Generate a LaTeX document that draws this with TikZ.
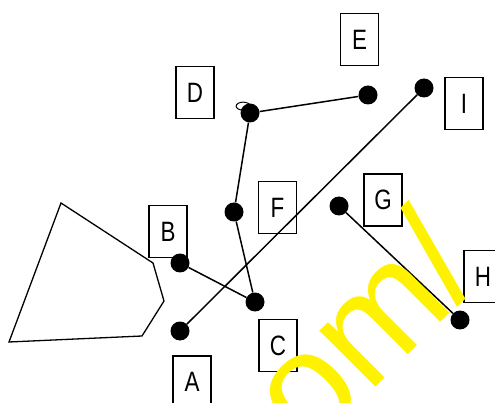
\documentclass[tikz,border=0pt]{standalone}
\usepackage{fontspec}
\setmainfont{Liberation Sans}
\newfontfamily\labelfont[FakeStretch=0.8]{Liberation Sans}
\begin{document}
\begin{tikzpicture}[x=1pt,y=-1pt,
  lbl/.style={draw,line width=1.3pt,minimum width=38pt,minimum height=52pt,inner sep=0pt,font=\labelfont\fontsize{28}{28}\selectfont},
  dot/.style={circle,fill=black,minimum size=19pt,inner sep=0pt},
  conn/.style={line width=1.5pt},
  wmark/.style={text=yellow,font=\fontsize{150}{150}\selectfont,inner sep=0pt,anchor=base,rotate=45}]
\useasboundingbox (0,0) rectangle (495,403);
\clip (0,0) rectangle (495,403);
% outline shape
\draw[line width=1.3pt,line join=miter] (61,203) -- (153,263) -- (164,301) -- (142,336) -- (9,342) -- cycle;
% labels
\node[lbl] (lE) at (359.5,39.5) {E};
\node[lbl] (lD) at (195,92.5) {D};
\node[lbl] (lI) at (464,103.5) {I};
\node[lbl] (lF) at (277.5,207.5) {F};
\node[lbl] (lB) at (168,231.5) {B};
\node[lbl] (lC) at (278,345.5) {C};
\node[lbl] (lA) at (192,382) {A};
\node[lbl] (lG) at (383,200) {G};
\node[lbl] (lH) at (483,276.5) {H};
% dots
\node[dot] (dA) at (180,331) {};
\node[dot] (dB) at (180,263) {};
\node[dot] (dC) at (255,302) {};
\node[dot] (dD) at (250,113) {};
\node[dot] (dE) at (368,95) {};
\node[dot] (dF) at (234,212) {};
\node[dot] (dG) at (339,206) {};
\node[dot] (dH) at (460,320) {};
\node[dot] (dI) at (424,88) {};
% small loops
\draw[line width=1pt] (dD.north west) ellipse [x radius=7pt,y radius=4pt];
% connectors
\draw[conn] (dD) -- (dE);
\draw[conn] (dD) -- (dF);
\draw[conn] (dF) -- (dC);
\draw[conn] (dB) -- (dC);
\draw[conn] (dA) -- (dI);
\draw[conn] (dG) -- (dH);
% watermark
\node[wmark] (wm) at (371,392) {com/};
\end{tikzpicture}
\end{document}
